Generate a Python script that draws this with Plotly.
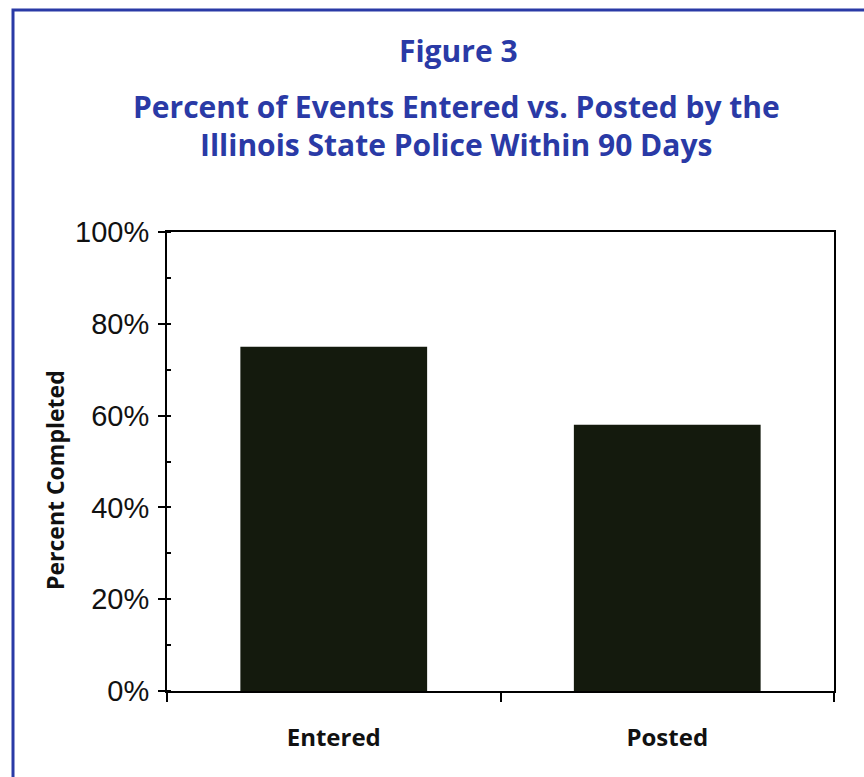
import plotly.graph_objects as go

categories = ["Entered", "Posted"]
values = [0.75, 0.58]
y_ticks = [0, 0.2, 0.4, 0.6, 0.8, 1.0]
y_tick_labels = ["0%", "20%", "40%", "60%", "80%", "100%"]

BLUE = "#2a3aa6"
BAR = "#141a0d"

fig = go.Figure(go.Bar(
    x=categories, y=values, width=0.56,
    marker=dict(color=BAR, line=dict(width=0)),
))

W, H = 864, 777
L, R, T, B = 167, 30, 232, 86
pw, ph = W - L - R, H - T - B

def px(x):
    return (x - L) / pw

def py(y):
    return (H - B - y) / ph

fig.update_layout(
    width=W, height=H,
    margin=dict(l=L, r=R, t=T, b=B),
    paper_bgcolor="white", plot_bgcolor="white",
    showlegend=False,
    bargap=0.44,
    xaxis=dict(
        showline=True, linecolor="black", linewidth=2, mirror=True,
        ticks="outside", tickson="boundaries", ticklen=9, tickwidth=2, tickcolor="black",
        showgrid=False,
        tickfont=dict(family="Open Sans", size=24, color="#111", weight="bold"),
        ticklabelstandoff=24,
    ),
    yaxis=dict(
        range=[0, 1], showline=True, linecolor="black", linewidth=2, mirror=True,
        tickvals=y_ticks, ticktext=y_tick_labels,
        ticks="outside", ticklen=7, tickwidth=2, tickcolor="black",
        minor=dict(dtick=0.1, ticks="inside", ticklen=4, tickwidth=1.5, tickcolor="black", showgrid=False),
        showgrid=False, zeroline=False,
        tickfont=dict(family="Liberation Sans", size=29, color="#111"),
        ticklabelstandoff=3,
    ),
    font=dict(family="Open Sans"),
)

fig.add_annotation(text="<b>Figure 3</b>", xref="paper", yref="paper",
                   x=px(458), y=py(51), xanchor="center", yanchor="middle", showarrow=False,
                   font=dict(family="Open Sans", size=30, color=BLUE))
fig.add_annotation(text="<b>Percent of Events Entered vs. Posted by the</b>", xref="paper", yref="paper",
                   x=px(456), y=py(106), xanchor="center", yanchor="middle", showarrow=False,
                   font=dict(family="Open Sans", size=30, color=BLUE))
fig.add_annotation(text="<b>Illinois State Police Within 90 Days</b>", xref="paper", yref="paper",
                   x=px(456), y=py(144), xanchor="center", yanchor="middle", showarrow=False,
                   font=dict(family="Open Sans", size=30, color=BLUE))
fig.add_annotation(text="<b>Percent Completed</b>", xref="paper", yref="paper",
                   x=px(55), y=py(480), xanchor="center", yanchor="middle", showarrow=False, textangle=-90,
                   font=dict(family="Open Sans", size=23, color="#111"))

fig.add_shape(type="rect", xref="paper", yref="paper",
              x0=px(13), y0=py(800), x1=px(900), y1=py(10),
              line=dict(color=BLUE, width=3), fillcolor="rgba(0,0,0,0)", layer="below")

fig.write_html("out.html")
